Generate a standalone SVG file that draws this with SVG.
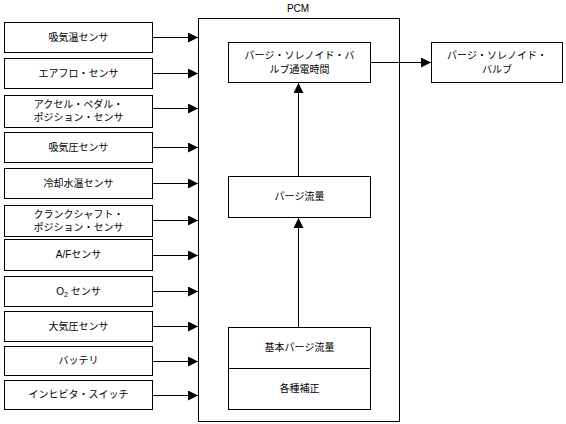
<svg xmlns="http://www.w3.org/2000/svg" width="566" height="424" viewBox="0 0 566 424">
<defs>
<marker id="ah" markerWidth="10" markerHeight="10" refX="10" refY="5" orient="auto" markerUnits="userSpaceOnUse">
<path d="M0,0 L10,5 L0,10 Z" fill="#000"/>
</marker>
<style>
rect{fill:#fff;stroke:#000;stroke-width:1}
text{font-family:"Liberation Sans","Noto Sans CJK JP",sans-serif;font-size:10px;fill:#000;text-anchor:middle}
.c line{stroke:#000;stroke-width:1;marker-end:url(#ah)}
</style>
</defs>
<rect width="566" height="424" style="stroke:none"/>
<g id="pcm"><rect x="198.5" y="18.5" width="201" height="403"/><text x="298" y="12">PCM</text></g>
<g id="s1"><rect x="4.5" y="22.5" width="148" height="30"/><text x="78.5" y="41">吸気温センサ</text></g>
<g id="s2"><rect x="4.5" y="58.5" width="148" height="30"/><text x="78.5" y="77">エアフロ・センサ</text></g>
<g id="s3"><rect x="4.5" y="95.5" width="148" height="32"/><text x="78.5" y="108">アクセル・ペダル・</text><text x="78.5" y="121">ポジション・センサ</text></g>
<g id="s4"><rect x="4.5" y="132.5" width="148" height="30"/><text x="78.5" y="151">吸気圧センサ</text></g>
<g id="s5"><rect x="4.5" y="168.5" width="148" height="30"/><text x="78.5" y="187">冷却水温センサ</text></g>
<g id="s6"><rect x="4.5" y="205.5" width="148" height="31"/><text x="78.5" y="218">クランクシャフト・</text><text x="78.5" y="231">ポジション・センサ</text></g>
<g id="s7"><rect x="4.5" y="239.5" width="148" height="31"/><text x="78.5" y="258">A/Fセンサ</text></g>
<g id="s8"><rect x="4.5" y="276.5" width="148" height="30"/><text x="78.5" y="295">O<tspan font-size="7" dy="2">2</tspan><tspan dy="-2"> センサ</tspan></text></g>
<g id="s9"><rect x="4.5" y="311.5" width="148" height="30"/><text x="78.5" y="330">大気圧センサ</text></g>
<g id="s10"><rect x="4.5" y="346.5" width="148" height="29"/><text x="78.5" y="364">バッテリ</text></g>
<g id="s11"><rect x="4.5" y="380.5" width="148" height="29"/><text x="78.5" y="398">インヒビタ・スイッチ</text></g>
<g id="n1"><rect x="228.5" y="42.5" width="142" height="40"/><text x="299.5" y="59">パージ・ソレノイド・バ</text><text x="299.5" y="73">ルブ通電時間</text></g>
<g id="n2"><rect x="228.5" y="176.5" width="142" height="41"/><text x="299.5" y="200">パージ流量</text></g>
<g id="n3"><rect x="228.5" y="327.5" width="142" height="82"/><line x1="228.5" y1="368.5" x2="370.5" y2="368.5" stroke="#000"/><text x="299.5" y="351">基本パージ流量</text><text x="299.5" y="392">各種補正</text></g>
<g id="out"><rect x="431.5" y="42.5" width="131" height="40"/><text x="497" y="59">パージ・ソレノイド・</text><text x="497" y="73">バルブ</text></g>
<g class="c" id="connectors">
<line x1="153" y1="37.5" x2="198" y2="37.5"/>
<line x1="153" y1="73.5" x2="198" y2="73.5"/>
<line x1="153" y1="108.5" x2="198" y2="108.5"/>
<line x1="153" y1="147.5" x2="198" y2="147.5"/>
<line x1="153" y1="183.5" x2="198" y2="183.5"/>
<line x1="153" y1="220.5" x2="198" y2="220.5"/>
<line x1="153" y1="255.5" x2="198" y2="255.5"/>
<line x1="153" y1="291.5" x2="198" y2="291.5"/>
<line x1="153" y1="326.5" x2="198" y2="326.5"/>
<line x1="153" y1="361.5" x2="198" y2="361.5"/>
<line x1="153" y1="395.5" x2="198" y2="395.5"/>
<line x1="371" y1="62.5" x2="431" y2="62.5"/>
<line x1="298.5" y1="176" x2="298.5" y2="83"/>
<line x1="298.5" y1="327" x2="298.5" y2="218"/>
</g>
</svg>
